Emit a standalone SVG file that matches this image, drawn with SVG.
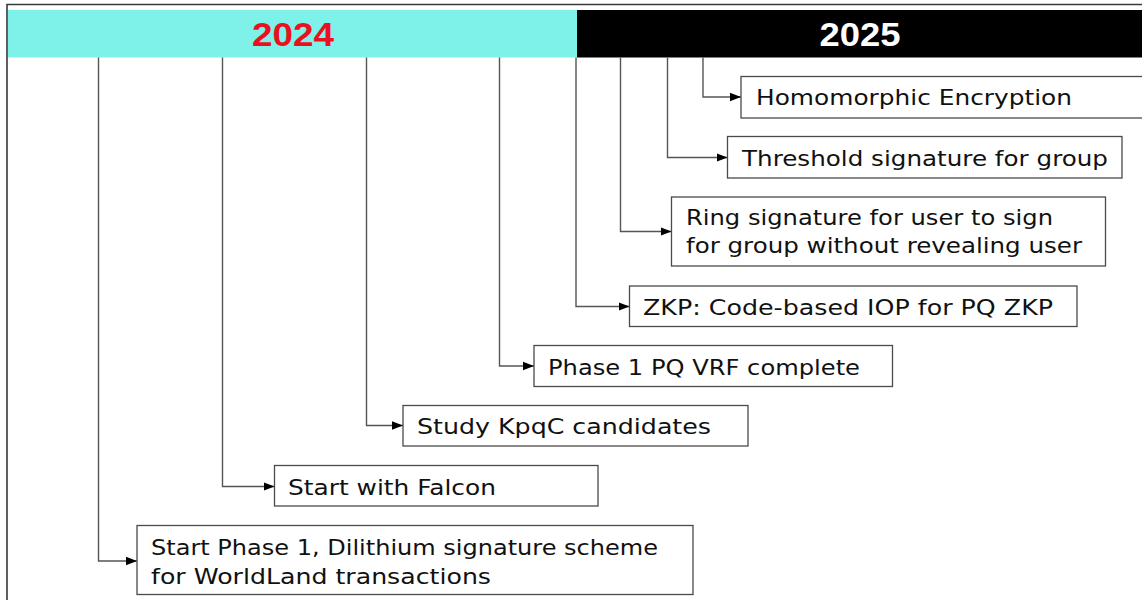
<svg xmlns="http://www.w3.org/2000/svg" width="1142" height="600" viewBox="0 0 1142 600">
  <style>
    .frame { fill: none; stroke: #3a3a3a; stroke-width: 1.6; }
    .year { font-family: "Liberation Sans", Arial, sans-serif; font-weight: bold; font-size: 33px; text-anchor: middle; }
    .box { fill: #ffffff; stroke: #4a4a4a; stroke-width: 1.3; }
    .label { font-family: "DejaVu Sans", "Noto Sans", sans-serif; font-size: 22px; fill: #111111; }
    .conn { fill: none; stroke: #555555; stroke-width: 1.4; }
  </style>
  <defs>
    <marker id="arrow" markerUnits="userSpaceOnUse" markerWidth="12" markerHeight="10" refX="11" refY="5" orient="auto">
      <path d="M0,0.8 L11,5 L0,9.2 Z" fill="#000000"/>
    </marker>
  </defs>

  <rect x="0" y="0" width="1142" height="600" fill="#ffffff"/>

  <!-- outer frame -->
  <path class="frame" d="M7,600 V4.5 H1142"/>

  <!-- year header -->
  <g id="year-2024">
    <rect x="8" y="10" width="569" height="47.5" fill="#7ef2e8"/>
    <text class="year" x="293" y="46" fill="#ea1020" textLength="82" lengthAdjust="spacingAndGlyphs">2024</text>
  </g>
  <g id="year-2025">
    <rect x="577" y="10" width="565" height="47.5" fill="#000000"/>
    <text class="year" x="860" y="46" fill="#ffffff" textLength="81" lengthAdjust="spacingAndGlyphs">2025</text>
  </g>

  <!-- connectors from the header down to each milestone -->
  <g id="connectors">
    <path class="conn" d="M98.5,57.5 V561 H137" marker-end="url(#arrow)"/>
    <path class="conn" d="M222.5,57.5 V486.5 H274.5" marker-end="url(#arrow)"/>
    <path class="conn" d="M366.5,57.5 V425.5 H403" marker-end="url(#arrow)"/>
    <path class="conn" d="M499.5,57.5 V366 H534" marker-end="url(#arrow)"/>
    <path class="conn" d="M576,57.5 V306.5 H629.5" marker-end="url(#arrow)"/>
    <path class="conn" d="M620.5,57.5 V231.5 H671.5" marker-end="url(#arrow)"/>
    <path class="conn" d="M667.5,57.5 V157.5 H727.5" marker-end="url(#arrow)"/>
    <path class="conn" d="M703,57.5 V97 H741" marker-end="url(#arrow)"/>
  </g>

  <!-- milestones -->
  <g id="homomorphic-encryption">
    <rect class="box" x="741" y="76.5" width="410" height="41.5"/>
    <text class="label" x="756" y="105" textLength="316" lengthAdjust="spacingAndGlyphs">Homomorphic Encryption</text>
  </g>
  <g id="threshold-signature">
    <rect class="box" x="727.5" y="136.5" width="394.5" height="41.5"/>
    <text class="label" x="742" y="165.5" textLength="366" lengthAdjust="spacingAndGlyphs">Threshold signature for group</text>
  </g>
  <g id="ring-signature">
    <rect class="box" x="671.5" y="197" width="434" height="69"/>
    <text class="label" x="686" y="224.5" textLength="367" lengthAdjust="spacingAndGlyphs">Ring signature for user to sign</text>
    <text class="label" x="686" y="253" textLength="396" lengthAdjust="spacingAndGlyphs">for group without revealing user</text>
  </g>
  <g id="zkp-iop">
    <rect class="box" x="629.5" y="286" width="447.5" height="40.5"/>
    <text class="label" x="643" y="314.5" textLength="410" lengthAdjust="spacingAndGlyphs">ZKP: Code-based IOP for PQ ZKP</text>
  </g>
  <g id="pq-vrf">
    <rect class="box" x="534" y="345.5" width="358.5" height="41"/>
    <text class="label" x="548" y="374.5" textLength="312" lengthAdjust="spacingAndGlyphs">Phase 1 PQ VRF complete</text>
  </g>
  <g id="kpqc-candidates">
    <rect class="box" x="403" y="405.5" width="345" height="40.5"/>
    <text class="label" x="417" y="434" textLength="294" lengthAdjust="spacingAndGlyphs">Study KpqC candidates</text>
  </g>
  <g id="falcon">
    <rect class="box" x="274.5" y="465.5" width="323.5" height="40.5"/>
    <text class="label" x="288" y="494.5" textLength="208" lengthAdjust="spacingAndGlyphs">Start with Falcon</text>
  </g>
  <g id="dilithium">
    <rect class="box" x="137" y="525.5" width="556" height="69"/>
    <text class="label" x="151" y="555" textLength="507" lengthAdjust="spacingAndGlyphs">Start Phase 1, Dilithium signature scheme</text>
    <text class="label" x="151" y="583.5" textLength="340" lengthAdjust="spacingAndGlyphs">for WorldLand transactions</text>
  </g>
</svg>
